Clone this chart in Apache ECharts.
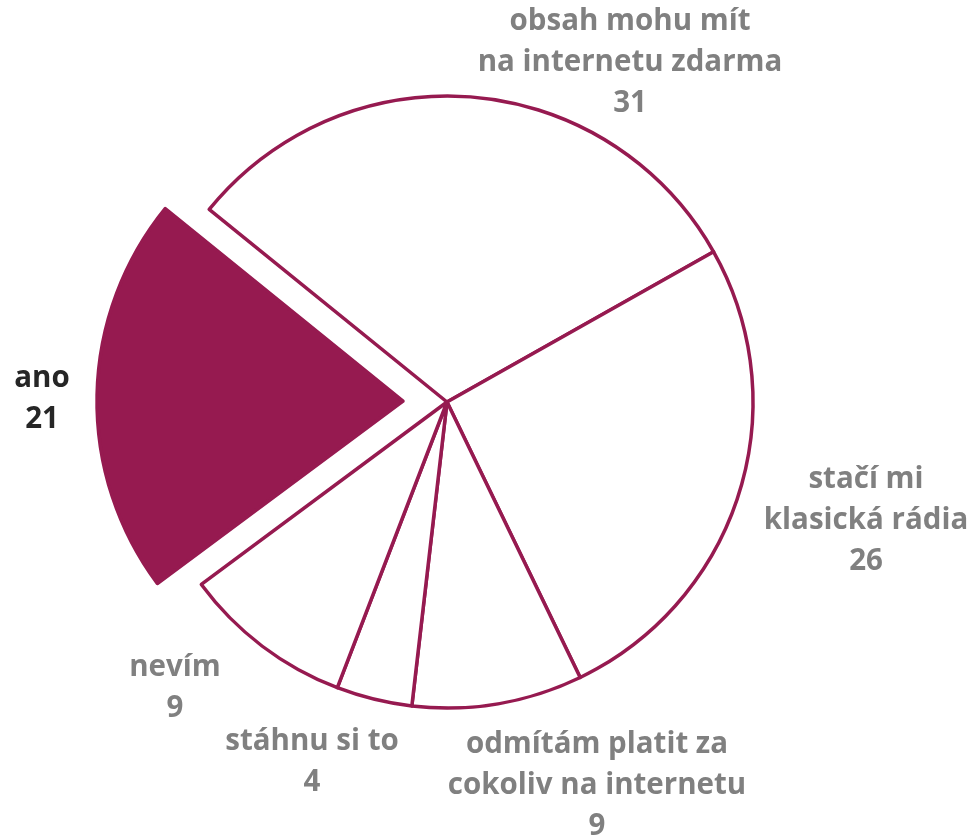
<!DOCTYPE html>
<html>
<head>
<meta charset="utf-8">
<script src="https://cdn.jsdelivr.net/npm/echarts@6/dist/echarts.min.js"></script>
<style>
html,body{margin:0;padding:0;background:#fff;}
#main{width:971px;height:839px;}
</style>
</head>
<body>
<div id="main"></div>
<script>
const categories = [
  'obsah mohu mít\nna internetu zdarma',
  'stačí mi\nklasická rádia',
  'odmítám platit za\ncokoliv na internetu',
  'stáhnu si to',
  'nevím',
  'ano'
];
const values = [31, 26, 9, 4, 9, 21];
const highlighted = 'ano';

const accent = '#961A50';
const labelPos = [[630, 63], [866, 521], [597, 786], [312, 762], [175, 688], [42, 399]];
const center = [447, 402];
const startAngle = 141;
const explode = 44;

const hiIdx = categories.indexOf(highlighted);
const total = values.reduce((a, b) => a + b, 0);
const before = values.slice(0, hiIdx).reduce((a, b) => a + b, 0);
const midDeg = startAngle - 360 * (before + values[hiIdx] / 2) / total;
const midRad = midDeg * Math.PI / 180;
const center2 = [center[0] + explode * Math.cos(midRad), center[1] - explode * Math.sin(midRad)];

const hidden = { color: 'rgba(0,0,0,0)', borderWidth: 0 };

const chart = echarts.init(document.getElementById('main'));
const mainData = categories.map((c, i) => {
  const isHi = i === hiIdx;
  return {
    name: c,
    value: values[i],
    itemStyle: isHi ? hidden : { color: '#ffffff', borderColor: accent, borderWidth: 3.5 },
    label: { color: isHi ? '#262626' : '#808080' }
  };
});
const hiData = categories.map((c, i) => {
  const isHi = i === hiIdx;
  return {
    name: c,
    value: values[i],
    itemStyle: isHi ? { color: accent, borderColor: accent, borderWidth: 3.5 } : hidden
  };
});
chart.setOption({
  animation: false,
  series: [{
    type: 'pie',
    center: center,
    radius: [0, 306],
    startAngle: startAngle,
    clockwise: true,
    data: mainData,
    emphasis: { disabled: true },
    label: {
      show: true,
      position: 'outside',
      formatter: p => p.name + '\n' + p.value,
      fontFamily: 'Open Sans',
      fontWeight: 'bold',
      fontSize: 29.5,
      lineHeight: 41,
      align: 'center',
      overflow: 'none'
    },
    labelLine: { show: false },
    labelLayout: function (params) {
      const p = labelPos[params.dataIndex];
      return { x: p[0], y: p[1], align: 'center', verticalAlign: 'middle' };
    }
  }, {
    type: 'pie',
    center: center2,
    radius: [0, 306],
    startAngle: startAngle,
    clockwise: true,
    silent: true,
    data: hiData,
    emphasis: { disabled: true },
    label: { show: false },
    labelLine: { show: false }
  }]
});
</script>
</body>
</html>
